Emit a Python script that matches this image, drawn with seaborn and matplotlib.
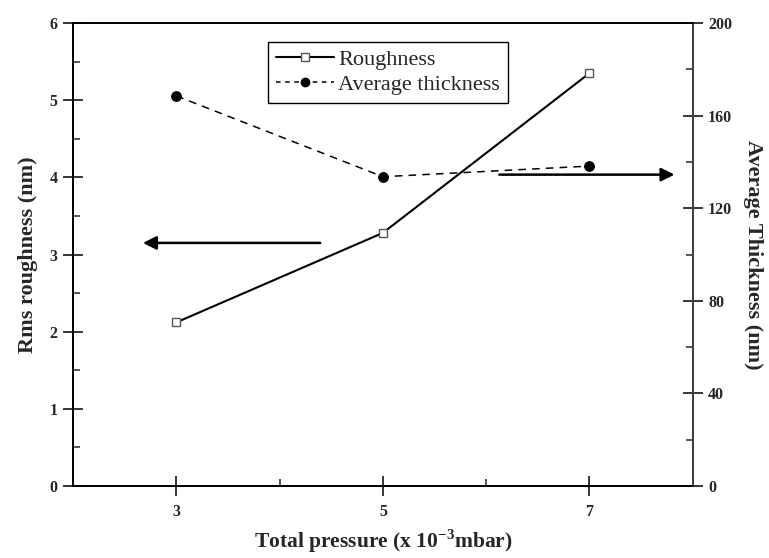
import matplotlib.pyplot as plt
import seaborn as sns
import pandas as pd
from matplotlib.ticker import MultipleLocator
from matplotlib.lines import Line2D

sns.set_style("ticks")
plt.rcParams['font.family'] = ['Liberation Serif', 'DejaVu Serif']
plt.rcParams['mathtext.fontset'] = 'custom'
plt.rcParams['mathtext.rm'] = 'Liberation Serif'
plt.rcParams['mathtext.bf'] = 'Liberation Serif:bold'

pressure = [3, 5, 7]
roughness = [2.12, 3.28, 5.35]
thickness = [168.5, 133.6, 138.2]

df = pd.DataFrame({"pressure": pressure, "roughness": roughness,
                   "thickness": thickness})

fig = plt.figure(figsize=(7.69, 5.58), dpi=100)
ax = fig.add_axes([0.0949, 0.129, 0.806, 0.8298])
ax2 = ax.twinx()

sns.lineplot(data=df, x="pressure", y="roughness", ax=ax, color="black",
             linewidth=1.5, marker="s", markersize=6, markerfacecolor="white",
             markeredgecolor="#555555", markeredgewidth=1)
sns.lineplot(data=df, x="pressure", y="thickness", ax=ax2, color="black",
             linewidth=1.1, linestyle=(0, (5, 4)), marker="o", markersize=7,
             markerfacecolor="black", markeredgecolor="black")

ax.set_xlim(2, 8)
ax.set_ylim(0, 6)
ax2.set_ylim(0, 200)

ax.set_xticks([3, 5, 7])
ax.set_xticks([4, 6], minor=True)
ax.yaxis.set_major_locator(MultipleLocator(1))
ax.yaxis.set_minor_locator(MultipleLocator(0.5))
ax2.yaxis.set_major_locator(MultipleLocator(40))
ax2.yaxis.set_minor_locator(MultipleLocator(20))

for a in (ax, ax2):
    a.tick_params(which="major", direction="inout", length=14, width=1.3,
                  labelsize=11.5, pad=4)
    a.tick_params(which="minor", direction="in", length=5, width=1.1)
    for lbl in a.get_xticklabels() + a.get_yticklabels():
        lbl.set_fontweight("bold")
    for s in a.spines.values():
        s.set_linewidth(1.3)
        s.set_color("black")
ax2.spines["right"].set_color("#444444")
ax.tick_params(axis="x", pad=6)

ax.set_xlabel(r"Total pressure (x 10$^{\mathbf{-3}}$mbar)", fontsize=15.5,
              fontweight="bold", labelpad=5)
ax.set_ylabel("Rms roughness (nm)", fontsize=16, fontweight="bold", labelpad=8)
ax2.set_ylabel("Average Thickness (nm)", fontsize=16, fontweight="bold",
               rotation=-90, labelpad=22)

# direction arrows
ax.annotate("", xy=(2.65, 3.15), xytext=(4.42, 3.15),
            arrowprops=dict(arrowstyle="-|>", color="black", lw=1.8,
                            mutation_scale=20))
ax2.annotate("", xy=(7.85, 134.5), xytext=(6.1, 134.5),
             arrowprops=dict(arrowstyle="-|>", color="black", lw=1.8,
                             mutation_scale=20))

handles = [
    Line2D([], [], color="black", linewidth=1.5, marker="s", markersize=6,
           markerfacecolor="white", markeredgecolor="#555555"),
    Line2D([], [], color="black", linewidth=1.1, linestyle=(0, (3, 3)),
           marker="o", markersize=6, markerfacecolor="black"),
]
leg = ax.legend(handles, ["Roughness", "Average thickness"], loc="upper left",
                bbox_to_anchor=(0.315, 0.96), fancybox=False,
                edgecolor="black", framealpha=1, fontsize=16,
                handlelength=2.6, handletextpad=0.2, borderaxespad=0,
                labelspacing=0.2, borderpad=0.35)
leg.get_frame().set_linewidth(1.0)

fig.savefig("out.png", dpi=100)
